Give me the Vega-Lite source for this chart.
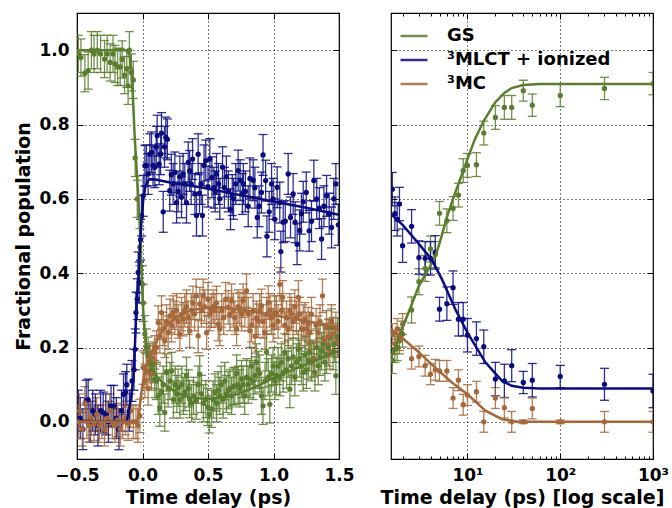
{
"$schema": "https://vega.github.io/schema/vega-lite/v6.json",
"background": "white",
"padding": {"left": 14, "top": 11, "right": 0, "bottom": 0},
"spacing": 24,
"config": {
 "font": "DejaVu Sans",
 "view": {"stroke": "black", "strokeWidth": 1.2},
 "axis": {"domain": false, "grid": true, "gridColor": "black", "gridDash": [1, 3], "gridOpacity": 1, "gridWidth": 1, "labelFlush": false, "labelOverlap": false,
  "tickColor": "black", "tickSize": -6, "tickWidth": 1, "labelFont": "DejaVu Sans", "labelFontSize": 17, "labelFontWeight": "bold",
  "labelColor": "black", "labelPadding": 14, "titleFont": "DejaVu Sans", "titleFontSize": 19, "titleFontWeight": "bold", "titleColor": "black", "titlePadding": 5},
 "legend": {"labelFont": "DejaVu Sans", "labelFontSize": 18, "labelFontWeight": "bold", "labelColor": "black", "labelLimit": 400}
},
"datasets": {
"left": [
{"s":"GS","t":-0.49,"y":0.99,"e":0.05},{"s":"GS","t":-0.47,"y":0.98,"e":0.05},{"s":"GS","t":-0.44,"y":0.938,"e":0.05},{"s":"GS","t":-0.415,"y":0.945,"e":0.05},{"s":"GS","t":-0.39,"y":1.0,"e":0.05},{"s":"GS","t":-0.37,"y":0.99,"e":0.05},{"s":"GS","t":-0.345,"y":1.0,"e":0.05},{"s":"GS","t":-0.32,"y":0.99,"e":0.05},{"s":"GS","t":-0.29,"y":0.976,"e":0.05},{"s":"GS","t":-0.27,"y":0.99,"e":0.05},{"s":"GS","t":-0.247,"y":0.967,"e":0.05},{"s":"GS","t":-0.225,"y":0.99,"e":0.05},{"s":"GS","t":-0.21,"y":0.963,"e":0.05},{"s":"GS","t":-0.19,"y":0.955,"e":0.05},{"s":"GS","t":-0.17,"y":0.955,"e":0.05},{"s":"GS","t":-0.155,"y":0.975,"e":0.05},{"s":"GS","t":-0.137,"y":0.933,"e":0.05},{"s":"GS","t":-0.12,"y":0.95,"e":0.05},{"s":"GS","t":-0.11,"y":0.904,"e":0.05},{"s":"GS","t":-0.1,"y":1.0,"e":0.05},{"s":"GS","t":-0.085,"y":0.94,"e":0.05},{"s":"GS","t":-0.07,"y":0.92,"e":0.05},{"s":"GS","t":-0.056,"y":0.71,"e":0.05},{"s":"GS","t":-0.04,"y":0.6,"e":0.05},{"s":"GS","t":-0.02,"y":0.47,"e":0.05},{"s":"GS","t":0.0,"y":0.37,"e":0.05},
{"s":"GS","t":0.005,"y":0.32,"e":0.05},{"s":"GS","t":0.018,"y":0.236,"e":0.05},{"s":"GS","t":0.03,"y":0.2,"e":0.05},{"s":"GS","t":0.043,"y":0.178,"e":0.05},{"s":"GS","t":0.056,"y":0.16,"e":0.05},{"s":"GS","t":0.068,"y":0.14,"e":0.05},{"s":"GS","t":0.08,"y":0.155,"e":0.05},{"s":"GS","t":0.094,"y":0.115,"e":0.05},{"s":"GS","t":0.107,"y":0.11,"e":0.05},{"s":"GS","t":0.12,"y":0.07,"e":0.05},{"s":"GS","t":0.132,"y":0.038,"e":0.05},{"s":"GS","t":0.145,"y":0.08,"e":0.05},{"s":"GS","t":0.158,"y":0.1,"e":0.05},{"s":"GS","t":0.17,"y":0.025,"e":0.05},{"s":"GS","t":0.183,"y":0.133,"e":0.05},{"s":"GS","t":0.196,"y":0.09,"e":0.05},{"s":"GS","t":0.21,"y":0.11,"e":0.05},{"s":"GS","t":0.223,"y":0.137,"e":0.05},{"s":"GS","t":0.236,"y":0.06,"e":0.05},{"s":"GS","t":0.25,"y":0.1,"e":0.05},{"s":"GS","t":0.262,"y":0.075,"e":0.05},{"s":"GS","t":0.272,"y":0.092,"e":0.05},{"s":"GS","t":0.285,"y":0.06,"e":0.05},{"s":"GS","t":0.3,"y":0.1,"e":0.05},{"s":"GS","t":0.312,"y":0.07,"e":0.05},{"s":"GS","t":0.324,"y":0.08,"e":0.05},{"s":"GS","t":0.336,"y":0.124,"e":0.05},{"s":"GS","t":0.35,"y":0.09,"e":0.05},{"s":"GS","t":0.36,"y":0.061,"e":0.05},{"s":"GS","t":0.375,"y":0.05,"e":0.05},{"s":"GS","t":0.39,"y":0.07,"e":0.05},{"s":"GS","t":0.41,"y":0.057,"e":0.05},{"s":"GS","t":0.425,"y":0.1,"e":0.05},{"s":"GS","t":0.437,"y":0.128,"e":0.05},{"s":"GS","t":0.45,"y":0.075,"e":0.05},{"s":"GS","t":0.465,"y":0.05,"e":0.05},{"s":"GS","t":0.483,"y":0.061,"e":0.05},{"s":"GS","t":0.497,"y":0.04,"e":0.05},{"s":"GS","t":0.51,"y":0.02,"e":0.05},{"s":"GS","t":0.527,"y":0.035,"e":0.05},{"s":"GS","t":0.54,"y":0.06,"e":0.05},{"s":"GS","t":0.553,"y":0.079,"e":0.05},{"s":"GS","t":0.565,"y":0.05,"e":0.05},{"s":"GS","t":0.578,"y":0.085,"e":0.05},{"s":"GS","t":0.59,"y":0.07,"e":0.05},{"s":"GS","t":0.6,"y":0.1,"e":0.05},{"s":"GS","t":0.615,"y":0.06,"e":0.05},{"s":"GS","t":0.628,"y":0.11,"e":0.05},{"s":"GS","t":0.64,"y":0.075,"e":0.05},{"s":"GS","t":0.655,"y":0.085,"e":0.05},{"s":"GS","t":0.668,"y":0.09,"e":0.05},{"s":"GS","t":0.68,"y":0.07,"e":0.05},{"s":"GS","t":0.693,"y":0.095,"e":0.05},{"s":"GS","t":0.705,"y":0.097,"e":0.05},{"s":"GS","t":0.718,"y":0.13,"e":0.05},{"s":"GS","t":0.73,"y":0.1,"e":0.05},{"s":"GS","t":0.743,"y":0.09,"e":0.05},{"s":"GS","t":0.756,"y":0.115,"e":0.05},{"s":"GS","t":0.768,"y":0.1,"e":0.05},{"s":"GS","t":0.78,"y":0.07,"e":0.05},{"s":"GS","t":0.795,"y":0.12,"e":0.05},{"s":"GS","t":0.807,"y":0.1,"e":0.05},{"s":"GS","t":0.82,"y":0.115,"e":0.05},{"s":"GS","t":0.833,"y":0.15,"e":0.05},{"s":"GS","t":0.845,"y":0.11,"e":0.05},{"s":"GS","t":0.858,"y":0.125,"e":0.05},{"s":"GS","t":0.87,"y":0.16,"e":0.05},{"s":"GS","t":0.883,"y":0.14,"e":0.05},{"s":"GS","t":0.895,"y":0.13,"e":0.05},{"s":"GS","t":0.908,"y":0.07,"e":0.05},{"s":"GS","t":0.92,"y":0.043,"e":0.05},{"s":"GS","t":0.935,"y":0.11,"e":0.05},{"s":"GS","t":0.947,"y":0.187,"e":0.05},{"s":"GS","t":0.96,"y":0.12,"e":0.05},{"s":"GS","t":0.972,"y":0.047,"e":0.05},{"s":"GS","t":0.985,"y":0.13,"e":0.05},{"s":"GS","t":0.997,"y":0.15,"e":0.05},{"s":"GS","t":1.01,"y":0.11,"e":0.05},{"s":"GS","t":1.022,"y":0.124,"e":0.05},{"s":"GS","t":1.035,"y":0.15,"e":0.05},{"s":"GS","t":1.048,"y":0.12,"e":0.05},{"s":"GS","t":1.06,"y":0.16,"e":0.05},{"s":"GS","t":1.074,"y":0.13,"e":0.05},{"s":"GS","t":1.086,"y":0.187,"e":0.05},{"s":"GS","t":1.1,"y":0.14,"e":0.05},{"s":"GS","t":1.112,"y":0.17,"e":0.05},{"s":"GS","t":1.125,"y":0.088,"e":0.05},{"s":"GS","t":1.137,"y":0.15,"e":0.05},{"s":"GS","t":1.15,"y":0.175,"e":0.05},{"s":"GS","t":1.163,"y":0.12,"e":0.05},{"s":"GS","t":1.175,"y":0.16,"e":0.05},{"s":"GS","t":1.19,"y":0.195,"e":0.05},{"s":"GS","t":1.2,"y":0.17,"e":0.05},{"s":"GS","t":1.214,"y":0.15,"e":0.05},{"s":"GS","t":1.227,"y":0.133,"e":0.05},{"s":"GS","t":1.24,"y":0.18,"e":0.05},{"s":"GS","t":1.252,"y":0.14,"e":0.05},{"s":"GS","t":1.265,"y":0.165,"e":0.05},{"s":"GS","t":1.277,"y":0.187,"e":0.05},{"s":"GS","t":1.29,"y":0.16,"e":0.05},{"s":"GS","t":1.303,"y":0.17,"e":0.05},{"s":"GS","t":1.316,"y":0.133,"e":0.05},{"s":"GS","t":1.33,"y":0.2,"e":0.05},{"s":"GS","t":1.342,"y":0.15,"e":0.05},{"s":"GS","t":1.355,"y":0.175,"e":0.05},{"s":"GS","t":1.367,"y":0.19,"e":0.05},{"s":"GS","t":1.38,"y":0.209,"e":0.05},{"s":"GS","t":1.392,"y":0.16,"e":0.05},{"s":"GS","t":1.405,"y":0.18,"e":0.05},{"s":"GS","t":1.418,"y":0.2,"e":0.05},{"s":"GS","t":1.43,"y":0.227,"e":0.05},{"s":"GS","t":1.443,"y":0.254,"e":0.05},{"s":"GS","t":1.455,"y":0.19,"e":0.05},{"s":"GS","t":1.468,"y":0.21,"e":0.05},{"s":"GS","t":1.476,"y":0.124,"e":0.05},{"s":"GS","t":1.49,"y":0.23,"e":0.05},
{"s":"ML","t":-0.49,"y":0.03,"e":0.055},{"s":"ML","t":-0.475,"y":0.01,"e":0.055},{"s":"ML","t":-0.455,"y":-0.02,"e":0.055},{"s":"ML","t":-0.43,"y":0.057,"e":0.055},{"s":"ML","t":-0.415,"y":0.06,"e":0.055},{"s":"ML","t":-0.4,"y":0.0,"e":0.055},{"s":"ML","t":-0.38,"y":0.03,"e":0.055},{"s":"ML","t":-0.36,"y":0.02,"e":0.055},{"s":"ML","t":-0.34,"y":-0.01,"e":0.055},{"s":"ML","t":-0.32,"y":0.03,"e":0.055},{"s":"ML","t":-0.3,"y":0.025,"e":0.055},{"s":"ML","t":-0.28,"y":0.02,"e":0.055},{"s":"ML","t":-0.26,"y":0.0,"e":0.055},{"s":"ML","t":-0.24,"y":0.043,"e":0.055},{"s":"ML","t":-0.22,"y":0.043,"e":0.055},{"s":"ML","t":-0.2,"y":0.01,"e":0.055},{"s":"ML","t":-0.18,"y":-0.02,"e":0.055},{"s":"ML","t":-0.16,"y":0.03,"e":0.055},{"s":"ML","t":-0.145,"y":0.074,"e":0.055},{"s":"ML","t":-0.13,"y":0.08,"e":0.055},{"s":"ML","t":-0.12,"y":0.1,"e":0.055},{"s":"ML","t":-0.1,"y":0.03,"e":0.055},{"s":"ML","t":-0.08,"y":0.11,"e":0.055},{"s":"ML","t":-0.065,"y":0.14,"e":0.055},{"s":"ML","t":-0.056,"y":0.195,"e":0.055},{"s":"ML","t":-0.05,"y":0.294,"e":0.055},{"s":"ML","t":-0.04,"y":0.33,"e":0.055},{"s":"ML","t":-0.033,"y":0.402,"e":0.055},{"s":"ML","t":-0.025,"y":0.375,"e":0.055},{"s":"ML","t":-0.015,"y":0.49,"e":0.055},{"s":"ML","t":-0.008,"y":0.555,"e":0.055},
{"s":"ML","t":0.005,"y":0.608,"e":0.055},{"s":"ML","t":0.018,"y":0.689,"e":0.055},{"s":"ML","t":0.03,"y":0.69,"e":0.055},{"s":"ML","t":0.043,"y":0.667,"e":0.055},{"s":"ML","t":0.056,"y":0.72,"e":0.055},{"s":"ML","t":0.069,"y":0.725,"e":0.055},{"s":"ML","t":0.08,"y":0.69,"e":0.055},{"s":"ML","t":0.094,"y":0.685,"e":0.055},{"s":"ML","t":0.105,"y":0.74,"e":0.055},{"s":"ML","t":0.112,"y":0.77,"e":0.055},{"s":"ML","t":0.127,"y":0.693,"e":0.055},{"s":"ML","t":0.138,"y":0.72,"e":0.055},{"s":"ML","t":0.145,"y":0.777,"e":0.055},{"s":"ML","t":0.158,"y":0.565,"e":0.055},{"s":"ML","t":0.168,"y":0.74,"e":0.055},{"s":"ML","t":0.178,"y":0.765,"e":0.055},{"s":"ML","t":0.19,"y":0.76,"e":0.055},{"s":"ML","t":0.208,"y":0.622,"e":0.055},{"s":"ML","t":0.22,"y":0.665,"e":0.055},{"s":"ML","t":0.234,"y":0.64,"e":0.055},{"s":"ML","t":0.247,"y":0.671,"e":0.055},{"s":"ML","t":0.26,"y":0.59,"e":0.055},{"s":"ML","t":0.272,"y":0.62,"e":0.055},{"s":"ML","t":0.285,"y":0.66,"e":0.055},{"s":"ML","t":0.298,"y":0.604,"e":0.055},{"s":"ML","t":0.31,"y":0.667,"e":0.055},{"s":"ML","t":0.323,"y":0.64,"e":0.055},{"s":"ML","t":0.336,"y":0.59,"e":0.055},{"s":"ML","t":0.349,"y":0.698,"e":0.055},{"s":"ML","t":0.36,"y":0.675,"e":0.055},{"s":"ML","t":0.372,"y":0.64,"e":0.055},{"s":"ML","t":0.382,"y":0.707,"e":0.055},{"s":"ML","t":0.4,"y":0.613,"e":0.055},{"s":"ML","t":0.412,"y":0.555,"e":0.055},{"s":"ML","t":0.425,"y":0.72,"e":0.055},{"s":"ML","t":0.435,"y":0.615,"e":0.055},{"s":"ML","t":0.447,"y":0.64,"e":0.055},{"s":"ML","t":0.458,"y":0.555,"e":0.055},{"s":"ML","t":0.47,"y":0.69,"e":0.055},{"s":"ML","t":0.483,"y":0.703,"e":0.055},{"s":"ML","t":0.5,"y":0.633,"e":0.055},{"s":"ML","t":0.514,"y":0.707,"e":0.055},{"s":"ML","t":0.53,"y":0.658,"e":0.055},{"s":"ML","t":0.545,"y":0.63,"e":0.055},{"s":"ML","t":0.555,"y":0.62,"e":0.055},{"s":"ML","t":0.565,"y":0.667,"e":0.055},{"s":"ML","t":0.58,"y":0.64,"e":0.055},{"s":"ML","t":0.59,"y":0.6,"e":0.055},{"s":"ML","t":0.611,"y":0.685,"e":0.055},{"s":"ML","t":0.625,"y":0.63,"e":0.055},{"s":"ML","t":0.64,"y":0.66,"e":0.055},{"s":"ML","t":0.655,"y":0.62,"e":0.055},{"s":"ML","t":0.672,"y":0.572,"e":0.055},{"s":"ML","t":0.685,"y":0.61,"e":0.055},{"s":"ML","t":0.695,"y":0.6,"e":0.055},{"s":"ML","t":0.712,"y":0.64,"e":0.055},{"s":"ML","t":0.73,"y":0.676,"e":0.055},{"s":"ML","t":0.745,"y":0.65,"e":0.055},{"s":"ML","t":0.763,"y":0.613,"e":0.055},{"s":"ML","t":0.77,"y":0.64,"e":0.055},{"s":"ML","t":0.785,"y":0.62,"e":0.055},{"s":"ML","t":0.807,"y":0.58,"e":0.055},{"s":"ML","t":0.82,"y":0.655,"e":0.055},{"s":"ML","t":0.845,"y":0.65,"e":0.055},{"s":"ML","t":0.858,"y":0.63,"e":0.055},{"s":"ML","t":0.876,"y":0.55,"e":0.055},{"s":"ML","t":0.89,"y":0.58,"e":0.055},{"s":"ML","t":0.908,"y":0.617,"e":0.055},{"s":"ML","t":0.92,"y":0.718,"e":0.055},{"s":"ML","t":0.94,"y":0.649,"e":0.055},{"s":"ML","t":0.95,"y":0.499,"e":0.055},{"s":"ML","t":0.967,"y":0.565,"e":0.055},{"s":"ML","t":0.985,"y":0.64,"e":0.055},{"s":"ML","t":0.997,"y":0.6,"e":0.055},{"s":"ML","t":1.01,"y":0.545,"e":0.055},{"s":"ML","t":1.028,"y":0.631,"e":0.055},{"s":"ML","t":1.048,"y":0.59,"e":0.055},{"s":"ML","t":1.056,"y":0.458,"e":0.055},{"s":"ML","t":1.074,"y":0.537,"e":0.055},{"s":"ML","t":1.09,"y":0.54,"e":0.055},{"s":"ML","t":1.112,"y":0.667,"e":0.055},{"s":"ML","t":1.13,"y":0.55,"e":0.055},{"s":"ML","t":1.15,"y":0.613,"e":0.055},{"s":"ML","t":1.165,"y":0.537,"e":0.055},{"s":"ML","t":1.18,"y":0.478,"e":0.055},{"s":"ML","t":1.2,"y":0.515,"e":0.055},{"s":"ML","t":1.213,"y":0.56,"e":0.055},{"s":"ML","t":1.227,"y":0.592,"e":0.055},{"s":"ML","t":1.25,"y":0.617,"e":0.055},{"s":"ML","t":1.272,"y":0.514,"e":0.055},{"s":"ML","t":1.29,"y":0.54,"e":0.055},{"s":"ML","t":1.308,"y":0.649,"e":0.055},{"s":"ML","t":1.33,"y":0.6,"e":0.055},{"s":"ML","t":1.35,"y":0.575,"e":0.055},{"s":"ML","t":1.367,"y":0.492,"e":0.055},{"s":"ML","t":1.385,"y":0.58,"e":0.055},{"s":"ML","t":1.405,"y":0.608,"e":0.055},{"s":"ML","t":1.425,"y":0.56,"e":0.055},{"s":"ML","t":1.443,"y":0.523,"e":0.055},{"s":"ML","t":1.46,"y":0.6,"e":0.055},{"s":"ML","t":1.476,"y":0.64,"e":0.055},{"s":"ML","t":1.495,"y":0.53,"e":0.055},
{"s":"MC","t":-0.49,"y":0.0,"e":0.045},{"s":"MC","t":-0.48,"y":0.03,"e":0.045},{"s":"MC","t":-0.46,"y":-0.02,"e":0.045},{"s":"MC","t":-0.44,"y":0.05,"e":0.045},{"s":"MC","t":-0.425,"y":0.0,"e":0.045},{"s":"MC","t":-0.41,"y":-0.01,"e":0.045},{"s":"MC","t":-0.39,"y":0.01,"e":0.045},{"s":"MC","t":-0.37,"y":-0.005,"e":0.045},{"s":"MC","t":-0.35,"y":0.02,"e":0.045},{"s":"MC","t":-0.33,"y":-0.01,"e":0.045},{"s":"MC","t":-0.31,"y":0.0,"e":0.045},{"s":"MC","t":-0.29,"y":-0.02,"e":0.045},{"s":"MC","t":-0.27,"y":0.01,"e":0.045},{"s":"MC","t":-0.25,"y":0.03,"e":0.045},{"s":"MC","t":-0.23,"y":0.0,"e":0.045},{"s":"MC","t":-0.21,"y":-0.01,"e":0.045},{"s":"MC","t":-0.19,"y":0.005,"e":0.045},{"s":"MC","t":-0.17,"y":-0.02,"e":0.045},{"s":"MC","t":-0.15,"y":0.0,"e":0.045},{"s":"MC","t":-0.13,"y":0.01,"e":0.045},{"s":"MC","t":-0.11,"y":-0.005,"e":0.045},{"s":"MC","t":-0.09,"y":0.03,"e":0.045},{"s":"MC","t":-0.07,"y":0.0,"e":0.045},{"s":"MC","t":-0.05,"y":0.0,"e":0.045},{"s":"MC","t":-0.035,"y":-0.01,"e":0.045},{"s":"MC","t":-0.02,"y":0.016,"e":0.045},
{"s":"MC","t":0.005,"y":0.146,"e":0.045},{"s":"MC","t":0.018,"y":0.11,"e":0.045},{"s":"MC","t":0.03,"y":0.137,"e":0.045},{"s":"MC","t":0.043,"y":0.09,"e":0.045},{"s":"MC","t":0.056,"y":0.16,"e":0.045},{"s":"MC","t":0.068,"y":0.13,"e":0.045},{"s":"MC","t":0.08,"y":0.17,"e":0.045},{"s":"MC","t":0.094,"y":0.187,"e":0.045},{"s":"MC","t":0.107,"y":0.2,"e":0.045},{"s":"MC","t":0.12,"y":0.267,"e":0.045},{"s":"MC","t":0.132,"y":0.23,"e":0.045},{"s":"MC","t":0.145,"y":0.294,"e":0.045},{"s":"MC","t":0.158,"y":0.25,"e":0.045},{"s":"MC","t":0.17,"y":0.218,"e":0.045},{"s":"MC","t":0.183,"y":0.27,"e":0.045},{"s":"MC","t":0.196,"y":0.24,"e":0.045},{"s":"MC","t":0.21,"y":0.285,"e":0.045},{"s":"MC","t":0.222,"y":0.26,"e":0.045},{"s":"MC","t":0.234,"y":0.294,"e":0.045},{"s":"MC","t":0.247,"y":0.28,"e":0.045},{"s":"MC","t":0.26,"y":0.3,"e":0.045},{"s":"MC","t":0.272,"y":0.27,"e":0.045},{"s":"MC","t":0.285,"y":0.236,"e":0.045},{"s":"MC","t":0.298,"y":0.29,"e":0.045},{"s":"MC","t":0.31,"y":0.276,"e":0.045},{"s":"MC","t":0.323,"y":0.3,"e":0.045},{"s":"MC","t":0.336,"y":0.31,"e":0.045},{"s":"MC","t":0.349,"y":0.28,"e":0.045},{"s":"MC","t":0.36,"y":0.245,"e":0.045},{"s":"MC","t":0.372,"y":0.3,"e":0.045},{"s":"MC","t":0.385,"y":0.32,"e":0.045},{"s":"MC","t":0.398,"y":0.29,"e":0.045},{"s":"MC","t":0.41,"y":0.339,"e":0.045},{"s":"MC","t":0.425,"y":0.231,"e":0.045},{"s":"MC","t":0.437,"y":0.317,"e":0.045},{"s":"MC","t":0.45,"y":0.3,"e":0.045},{"s":"MC","t":0.463,"y":0.339,"e":0.045},{"s":"MC","t":0.475,"y":0.31,"e":0.045},{"s":"MC","t":0.49,"y":0.24,"e":0.045},{"s":"MC","t":0.5,"y":0.33,"e":0.045},{"s":"MC","t":0.515,"y":0.29,"e":0.045},{"s":"MC","t":0.527,"y":0.299,"e":0.045},{"s":"MC","t":0.54,"y":0.31,"e":0.045},{"s":"MC","t":0.553,"y":0.3,"e":0.045},{"s":"MC","t":0.565,"y":0.32,"e":0.045},{"s":"MC","t":0.578,"y":0.263,"e":0.045},{"s":"MC","t":0.59,"y":0.25,"e":0.045},{"s":"MC","t":0.605,"y":0.3,"e":0.045},{"s":"MC","t":0.62,"y":0.28,"e":0.045},{"s":"MC","t":0.635,"y":0.33,"e":0.045},{"s":"MC","t":0.654,"y":0.308,"e":0.045},{"s":"MC","t":0.668,"y":0.29,"e":0.045},{"s":"MC","t":0.68,"y":0.326,"e":0.045},{"s":"MC","t":0.693,"y":0.3,"e":0.045},{"s":"MC","t":0.705,"y":0.28,"e":0.045},{"s":"MC","t":0.718,"y":0.25,"e":0.045},{"s":"MC","t":0.73,"y":0.31,"e":0.045},{"s":"MC","t":0.743,"y":0.303,"e":0.045},{"s":"MC","t":0.756,"y":0.29,"e":0.045},{"s":"MC","t":0.768,"y":0.326,"e":0.045},{"s":"MC","t":0.781,"y":0.3,"e":0.045},{"s":"MC","t":0.794,"y":0.353,"e":0.045},{"s":"MC","t":0.807,"y":0.29,"e":0.045},{"s":"MC","t":0.82,"y":0.245,"e":0.045},{"s":"MC","t":0.833,"y":0.26,"e":0.045},{"s":"MC","t":0.845,"y":0.3,"e":0.045},{"s":"MC","t":0.86,"y":0.23,"e":0.045},{"s":"MC","t":0.87,"y":0.28,"e":0.045},{"s":"MC","t":0.883,"y":0.272,"e":0.045},{"s":"MC","t":0.895,"y":0.3,"e":0.045},{"s":"MC","t":0.908,"y":0.312,"e":0.045},{"s":"MC","t":0.92,"y":0.27,"e":0.045},{"s":"MC","t":0.934,"y":0.24,"e":0.045},{"s":"MC","t":0.947,"y":0.29,"e":0.045},{"s":"MC","t":0.96,"y":0.321,"e":0.045},{"s":"MC","t":0.972,"y":0.3,"e":0.045},{"s":"MC","t":0.985,"y":0.28,"e":0.045},{"s":"MC","t":0.997,"y":0.26,"e":0.045},{"s":"MC","t":1.01,"y":0.294,"e":0.045},{"s":"MC","t":1.022,"y":0.294,"e":0.045},{"s":"MC","t":1.035,"y":0.27,"e":0.045},{"s":"MC","t":1.048,"y":0.37,"e":0.045},{"s":"MC","t":1.06,"y":0.3,"e":0.045},{"s":"MC","t":1.07,"y":0.335,"e":0.045},{"s":"MC","t":1.086,"y":0.26,"e":0.045},{"s":"MC","t":1.1,"y":0.28,"e":0.045},{"s":"MC","t":1.112,"y":0.25,"e":0.045},{"s":"MC","t":1.125,"y":0.3,"e":0.045},{"s":"MC","t":1.137,"y":0.29,"e":0.045},{"s":"MC","t":1.15,"y":0.27,"e":0.045},{"s":"MC","t":1.163,"y":0.31,"e":0.045},{"s":"MC","t":1.175,"y":0.28,"e":0.045},{"s":"MC","t":1.19,"y":0.335,"e":0.045},{"s":"MC","t":1.2,"y":0.29,"e":0.045},{"s":"MC","t":1.214,"y":0.25,"e":0.045},{"s":"MC","t":1.227,"y":0.27,"e":0.045},{"s":"MC","t":1.24,"y":0.276,"e":0.045},{"s":"MC","t":1.252,"y":0.25,"e":0.045},{"s":"MC","t":1.265,"y":0.263,"e":0.045},{"s":"MC","t":1.277,"y":0.24,"e":0.045},{"s":"MC","t":1.29,"y":0.29,"e":0.045},{"s":"MC","t":1.31,"y":0.168,"e":0.045},{"s":"MC","t":1.325,"y":0.26,"e":0.045},{"s":"MC","t":1.34,"y":0.24,"e":0.045},{"s":"MC","t":1.355,"y":0.27,"e":0.045},{"s":"MC","t":1.374,"y":0.339,"e":0.045},{"s":"MC","t":1.39,"y":0.22,"e":0.045},{"s":"MC","t":1.405,"y":0.254,"e":0.045},{"s":"MC","t":1.418,"y":0.23,"e":0.045},{"s":"MC","t":1.43,"y":0.187,"e":0.045},{"s":"MC","t":1.443,"y":0.27,"e":0.045},{"s":"MC","t":1.455,"y":0.236,"e":0.045},{"s":"MC","t":1.476,"y":0.25,"e":0.045},{"s":"MC","t":1.49,"y":0.22,"e":0.045}
],
"right": [
{"s":"GS","t":1.55,"y":0.165,"e":0.035},{"s":"GS","t":1.65,"y":0.195,"e":0.035},{"s":"GS","t":1.75,"y":0.2,"e":0.035},{"s":"GS","t":1.85,"y":0.218,"e":0.035},{"s":"GS","t":2,"y":0.236,"e":0.035},{"s":"GS","t":2.5,"y":0.301,"e":0.035},{"s":"GS","t":3,"y":0.377,"e":0.035},{"s":"GS","t":3.5,"y":0.413,"e":0.035},{"s":"GS","t":4,"y":0.465,"e":0.035},{"s":"GS","t":4.5,"y":0.45,"e":0.035},{"s":"GS","t":5,"y":0.561,"e":0.032},{"s":"GS","t":6,"y":0.541,"e":0.032},{"s":"GS","t":7,"y":0.574,"e":0.032},{"s":"GS","t":8,"y":0.61,"e":0.032},{"s":"GS","t":9,"y":0.676,"e":0.032},{"s":"GS","t":10,"y":0.69,"e":0.032},{"s":"GS","t":12.5,"y":0.692,"e":0.032},{"s":"GS","t":15,"y":0.777,"e":0.032},{"s":"GS","t":20,"y":0.819,"e":0.032},{"s":"GS","t":25,"y":0.846,"e":0.032},{"s":"GS","t":30,"y":0.846,"e":0.032},{"s":"GS","t":40,"y":0.891,"e":0.028},{"s":"GS","t":50,"y":0.852,"e":0.03},{"s":"GS","t":100,"y":0.878,"e":0.03},{"s":"GS","t":300,"y":0.897,"e":0.03},{"s":"GS","t":1000,"y":0.91,"e":0.03},
{"s":"ML","t":1.55,"y":0.626,"e":0.045},{"s":"ML","t":1.65,"y":0.56,"e":0.045},{"s":"ML","t":1.75,"y":0.545,"e":0.045},{"s":"ML","t":1.85,"y":0.586,"e":0.045},{"s":"ML","t":2,"y":0.474,"e":0.045},{"s":"ML","t":2.5,"y":0.526,"e":0.045},{"s":"ML","t":3,"y":0.442,"e":0.045},{"s":"ML","t":3.5,"y":0.44,"e":0.045},{"s":"ML","t":4,"y":0.44,"e":0.045},{"s":"ML","t":4.5,"y":0.456,"e":0.045},{"s":"ML","t":5,"y":0.303,"e":0.032},{"s":"ML","t":6,"y":0.318,"e":0.045},{"s":"ML","t":7,"y":0.361,"e":0.045},{"s":"ML","t":8,"y":0.276,"e":0.045},{"s":"ML","t":9,"y":0.276,"e":0.045},{"s":"ML","t":10,"y":0.233,"e":0.045},{"s":"ML","t":12.5,"y":0.224,"e":0.045},{"s":"ML","t":15,"y":0.202,"e":0.045},{"s":"ML","t":20,"y":0.115,"e":0.045},{"s":"ML","t":25,"y":0.11,"e":0.045},{"s":"ML","t":30,"y":0.151,"e":0.043},{"s":"ML","t":40,"y":0.106,"e":0.03},{"s":"ML","t":50,"y":0.112,"e":0.045},{"s":"ML","t":100,"y":0.122,"e":0.03},{"s":"ML","t":300,"y":0.101,"e":0.043},{"s":"ML","t":1000,"y":0.083,"e":0.045},
{"s":"MC","t":1.55,"y":0.236,"e":0.028},{"s":"MC","t":1.65,"y":0.21,"e":0.028},{"s":"MC","t":1.75,"y":0.25,"e":0.028},{"s":"MC","t":1.85,"y":0.22,"e":0.028},{"s":"MC","t":2,"y":0.263,"e":0.028},{"s":"MC","t":2.5,"y":0.17,"e":0.028},{"s":"MC","t":3,"y":0.176,"e":0.028},{"s":"MC","t":3.5,"y":0.151,"e":0.028},{"s":"MC","t":4,"y":0.128,"e":0.028},{"s":"MC","t":4.5,"y":0.14,"e":0.028},{"s":"MC","t":5,"y":0.137,"e":0.028},{"s":"MC","t":6,"y":0.137,"e":0.028},{"s":"MC","t":7,"y":0.064,"e":0.028},{"s":"MC","t":8,"y":0.112,"e":0.028},{"s":"MC","t":9,"y":0.046,"e":0.028},{"s":"MC","t":10,"y":0.072,"e":0.028},{"s":"MC","t":12.5,"y":0.081,"e":0.028},{"s":"MC","t":15,"y":0.0,"e":0.028},{"s":"MC","t":20,"y":0.064,"e":0.028},{"s":"MC","t":25,"y":0.038,"e":0.028},{"s":"MC","t":30,"y":0.0,"e":0.028},{"s":"MC","t":40,"y":0.0,"e":0.005},{"s":"MC","t":50,"y":0.036,"e":0.028},{"s":"MC","t":100,"y":0.0,"e":0.005},{"s":"MC","t":300,"y":0.0,"e":0.028},{"s":"MC","t":1000,"y":0.0,"e":0.028}
],
"fitL": [
{"s":"GS","t":-0.5,"y":1.0},{"s":"GS","t":-0.13,"y":1.0},{"s":"GS","t":-0.1,"y":0.99},{"s":"GS","t":-0.09,"y":0.965},{"s":"GS","t":-0.08,"y":0.92},{"s":"GS","t":-0.07,"y":0.85},{"s":"GS","t":-0.06,"y":0.77},{"s":"GS","t":-0.05,"y":0.71},{"s":"GS","t":-0.04,"y":0.65},{"s":"GS","t":-0.03,"y":0.59},{"s":"GS","t":-0.02,"y":0.52},{"s":"GS","t":-0.01,"y":0.43},{"s":"GS","t":0.0,"y":0.34},{"s":"GS","t":0.01,"y":0.27},{"s":"GS","t":0.025,"y":0.215},{"s":"GS","t":0.04,"y":0.185},{"s":"GS","t":0.056,"y":0.165},{"s":"GS","t":0.08,"y":0.14},{"s":"GS","t":0.107,"y":0.124},{"s":"GS","t":0.14,"y":0.11},{"s":"GS","t":0.183,"y":0.097},{"s":"GS","t":0.23,"y":0.085},{"s":"GS","t":0.285,"y":0.075},{"s":"GS","t":0.35,"y":0.067},{"s":"GS","t":0.46,"y":0.062},{"s":"GS","t":0.55,"y":0.063},{"s":"GS","t":0.65,"y":0.068},{"s":"GS","t":0.72,"y":0.074},{"s":"GS","t":0.8,"y":0.085},{"s":"GS","t":0.9,"y":0.1},{"s":"GS","t":1.0,"y":0.118},{"s":"GS","t":1.1,"y":0.133},{"s":"GS","t":1.2,"y":0.148},{"s":"GS","t":1.3,"y":0.162},{"s":"GS","t":1.4,"y":0.176},{"s":"GS","t":1.5,"y":0.19},
{"s":"ML","t":-0.5,"y":0.0},{"s":"ML","t":-0.12,"y":0.0},{"s":"ML","t":-0.094,"y":0.05},{"s":"ML","t":-0.069,"y":0.115},{"s":"ML","t":-0.056,"y":0.22},{"s":"ML","t":-0.046,"y":0.32},{"s":"ML","t":-0.031,"y":0.39},{"s":"ML","t":-0.02,"y":0.47},{"s":"ML","t":-0.01,"y":0.53},{"s":"ML","t":0.005,"y":0.595},{"s":"ML","t":0.02,"y":0.63},{"s":"ML","t":0.04,"y":0.648},{"s":"ML","t":0.056,"y":0.653},{"s":"ML","t":0.1,"y":0.652},{"s":"ML","t":0.21,"y":0.644},{"s":"ML","t":0.463,"y":0.63},{"s":"ML","t":0.718,"y":0.612},{"s":"ML","t":1.0,"y":0.593},{"s":"ML","t":1.25,"y":0.576},{"s":"ML","t":1.5,"y":0.557},
{"s":"MC","t":-0.5,"y":0.0},{"s":"MC","t":-0.04,"y":0.0},{"s":"MC","t":-0.033,"y":0.016},{"s":"MC","t":-0.02,"y":0.045},{"s":"MC","t":-0.008,"y":0.079},{"s":"MC","t":0.01,"y":0.12},{"s":"MC","t":0.031,"y":0.151},{"s":"MC","t":0.055,"y":0.177},{"s":"MC","t":0.08,"y":0.195},{"s":"MC","t":0.12,"y":0.225},{"s":"MC","t":0.158,"y":0.249},{"s":"MC","t":0.2,"y":0.265},{"s":"MC","t":0.26,"y":0.281},{"s":"MC","t":0.36,"y":0.299},{"s":"MC","t":0.463,"y":0.306},{"s":"MC","t":0.59,"y":0.308},{"s":"MC","t":0.718,"y":0.303},{"s":"MC","t":0.9,"y":0.293},{"s":"MC","t":1.1,"y":0.281},{"s":"MC","t":1.3,"y":0.268},{"s":"MC","t":1.5,"y":0.253}
],
"fitR": [
{"s":"GS","t":1.5,"y":0.175},{"s":"GS","t":1.6,"y":0.187},{"s":"GS","t":2,"y":0.254},{"s":"GS","t":2.5,"y":0.315},{"s":"GS","t":3,"y":0.366},{"s":"GS","t":4,"y":0.42},{"s":"GS","t":4.5,"y":0.445},{"s":"GS","t":5,"y":0.48},{"s":"GS","t":6,"y":0.55},{"s":"GS","t":7,"y":0.6},{"s":"GS","t":8,"y":0.64},{"s":"GS","t":10,"y":0.707},{"s":"GS","t":12,"y":0.76},{"s":"GS","t":15,"y":0.81},{"s":"GS","t":20,"y":0.86},{"s":"GS","t":25,"y":0.885},{"s":"GS","t":30,"y":0.898},{"s":"GS","t":40,"y":0.906},{"s":"GS","t":60,"y":0.909},{"s":"GS","t":1000,"y":0.909},
{"s":"ML","t":1.5,"y":0.559},{"s":"ML","t":2,"y":0.53},{"s":"ML","t":2.54,"y":0.5},{"s":"ML","t":3.2,"y":0.47},{"s":"ML","t":4.16,"y":0.435},{"s":"ML","t":5.3,"y":0.384},{"s":"ML","t":7.4,"y":0.303},{"s":"ML","t":10,"y":0.24},{"s":"ML","t":15.6,"y":0.16},{"s":"ML","t":23.6,"y":0.11},{"s":"ML","t":30,"y":0.097},{"s":"ML","t":40,"y":0.092},{"s":"ML","t":60,"y":0.09},{"s":"ML","t":1000,"y":0.09},
{"s":"MC","t":1.5,"y":0.25},{"s":"MC","t":2,"y":0.225},{"s":"MC","t":3,"y":0.187},{"s":"MC","t":4.5,"y":0.146},{"s":"MC","t":6.8,"y":0.106},{"s":"MC","t":10,"y":0.074},{"s":"MC","t":15.6,"y":0.03},{"s":"MC","t":23.6,"y":0.007},{"s":"MC","t":35,"y":0.0},{"s":"MC","t":1000,"y":0.0}
]
},
"hconcat": [
{
 "width": 262, "height": 446,
 "resolve": {"axis": {"x": "independent", "y": "independent"}},
 "layer": [
  {"data": {"name": "left"}, "mark": {"type": "errorbar", "ticks": true, "size": 9, "thickness": 1.3, "opacity": 0.85, "clip": true},
   "encoding": {
    "x": {"field": "t", "type": "quantitative", "scale": {"domain": [-0.5, 1.5], "nice": false, "zero": false}, "axis": {"values": [-0.5, 0, 0.5, 1, 1.5], "format": ".1f", "title": "Time delay (ps)"}},
    "y": {"field": "y", "type": "quantitative", "scale": {"domain": [-0.1, 1.1], "nice": false}, "axis": {"values": [0, 0.2, 0.4, 0.6, 0.8, 1.0], "format": ".1f", "title": "Fractional population"}},
    "yError": {"field": "e"},
    "color": {"field": "s", "type": "nominal", "scale": {"domain": ["GS", "ML", "MC"], "range": ["#5a7d2e", "#0b0b80", "#a6683a"]}, "legend": null}}},
  {"data": {"name": "left"}, "mark": {"type": "point", "filled": true, "size": 28, "opacity": 1, "clip": true},
   "encoding": {
    "x": {"field": "t", "type": "quantitative", "axis": {"orient": "top", "values": [-0.5, 0, 0.5, 1, 1.5], "labels": false, "grid": false, "title": null, "minExtent": 0, "maxExtent": 0}},
    "y": {"field": "y", "type": "quantitative", "axis": {"orient": "right", "values": [0, 0.2, 0.4, 0.6, 0.8, 1.0], "labels": false, "grid": false, "title": null, "minExtent": 0, "maxExtent": 0}},
    "color": {"field": "s", "type": "nominal", "legend": null}}},
  {"data": {"name": "fitL"}, "mark": {"type": "line", "strokeWidth": 2.5, "clip": true},
   "encoding": {
    "x": {"field": "t", "type": "quantitative", "axis": null},
    "y": {"field": "y", "type": "quantitative", "axis": null},
    "color": {"field": "s", "type": "nominal", "legend": null}}}
 ]
},
{
 "width": 262, "height": 446,
 "resolve": {"axis": {"x": "independent", "y": "independent"}},
 "layer": [
  {"data": {"name": "right"}, "mark": {"type": "errorbar", "ticks": true, "size": 9, "thickness": 1.3, "opacity": 0.85, "clip": true},
   "encoding": {
    "x": {"field": "t", "type": "quantitative", "scale": {"type": "log", "domain": [1.5, 1000], "nice": false}, "axis": {"values": [10, 100, 1000], "labelExpr": "datum.value == 10 ? '10¹' : datum.value == 100 ? '10²' : '10³'", "title": "Time delay (ps) [log scale]"}},
    "y": {"field": "y", "type": "quantitative", "scale": {"domain": [-0.1, 1.1], "nice": false}, "axis": {"values": [0, 0.2, 0.4, 0.6, 0.8, 1.0], "labels": false, "title": null, "minExtent": 0, "maxExtent": 0}},
    "yError": {"field": "e"},
    "color": {"field": "s", "type": "nominal", "scale": {"domain": ["GS", "ML", "MC"], "range": ["#5a7d2e", "#0b0b80", "#a6683a"]},
     "legend": {"orient": "top-left", "offset": 8, "padding": 0, "title": null, "symbolType": "stroke", "symbolSize": 729, "symbolStrokeWidth": 2.5, "labelOffset": 18, "rowPadding": 0,
       "labelExpr": "datum.label == 'GS' ? 'GS' : datum.label == 'ML' ? '³MLCT + ionized' : '³MC'"}}}},
  {"data": {"name": "right"}, "mark": {"type": "point", "filled": true, "size": 28, "opacity": 1, "clip": true},
   "encoding": {
    "x": {"field": "t", "type": "quantitative", "axis": {"orient": "top", "values": [10, 100, 1000], "labels": false, "grid": false, "title": null, "minExtent": 0, "maxExtent": 0}},
    "y": {"field": "y", "type": "quantitative", "axis": {"orient": "right", "values": [0, 0.2, 0.4, 0.6, 0.8, 1.0], "labels": false, "grid": false, "title": null, "minExtent": 0, "maxExtent": 0}},
    "color": {"field": "s", "type": "nominal"}}},
  {"data": {"name": "fitR"}, "mark": {"type": "line", "strokeWidth": 2.5, "clip": true},
   "encoding": {
    "x": {"field": "t", "type": "quantitative", "axis": {"values": [2, 3, 4, 5, 6, 7, 8, 9, 20, 30, 40, 50, 60, 70, 80, 90, 200, 300, 400, 500, 600, 700, 800, 900], "labels": false, "grid": false, "title": null, "tickSize": -3, "minExtent": 0, "maxExtent": 0}},
    "y": {"field": "y", "type": "quantitative", "axis": null},
    "color": {"field": "s", "type": "nominal"}}},
  {"data": {"name": "fitR"}, "mark": {"type": "line", "strokeOpacity": 0, "clip": true},
   "encoding": {
    "x": {"field": "t", "type": "quantitative", "axis": {"orient": "top", "values": [2, 3, 4, 5, 6, 7, 8, 9, 20, 30, 40, 50, 60, 70, 80, 90, 200, 300, 400, 500, 600, 700, 800, 900], "labels": false, "grid": false, "title": null, "tickSize": -3, "minExtent": 0, "maxExtent": 0}},
    "y": {"field": "y", "type": "quantitative", "axis": null},
    "color": {"field": "s", "type": "nominal"}}}
 ]
}
],
"resolve": {"scale": {"color": "independent"}}
}
